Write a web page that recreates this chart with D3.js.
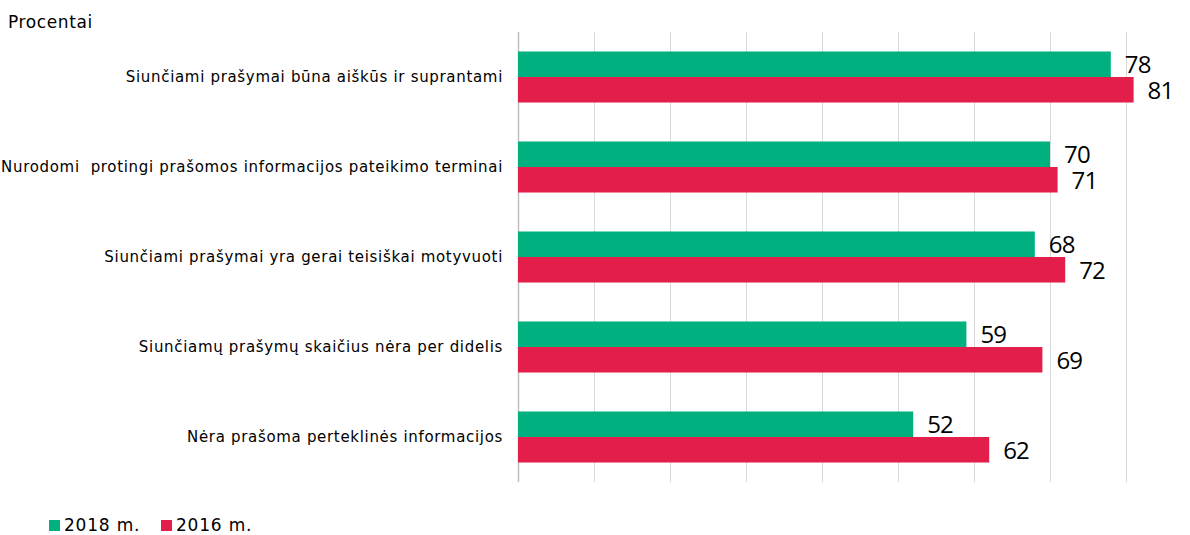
<!DOCTYPE html>
<html>
<head>
<meta charset="utf-8">
<script src="https://cdn.jsdelivr.net/npm/d3@7"></script>
<style>
  body { margin: 0; background: #fff; }
</style>
</head>
<body>
<script>
const categories = [
  'Siunčiami prašymai būna aiškūs ir suprantami',
  'Nurodomi  protingi prašomos informacijos pateikimo terminai',
  'Siunčiami prašymai yra gerai teisiškai motyvuoti',
  'Siunčiamų prašymų skaičius nėra per didelis',
  'Nėra prašoma perteklinės informacijos',
]
const series = ['2018 m.', '2016 m.']
const values2018 = [78, 70, 68, 59, 52]
const values2016 = [81, 71, 72, 69, 62]
const xTicks = [0, 10, 20, 30, 40, 50, 60, 70, 80]
const colors = ['#00b07f', '#e31e4b']

const width = 1190
const height = 535
const margin = { top: 32, right: 64, bottom: 53, left: 518 }

const data = categories.map((c, i) => ({ name: c, values: [values2018[i], values2016[i]] }))

const x = d3
  .scaleLinear()
  .domain([0, 80])
  .range([margin.left, width - margin.right])

const y = d3
  .scaleBand()
  .domain(categories)
  .range([margin.top, height - margin.bottom])
  .paddingInner(0.433)
  .paddingOuter(0.2165)

const yInner = d3
  .scaleBand()
  .domain(series)
  .range([0, y.bandwidth()])

const svg = d3
  .select('body')
  .append('svg')
  .attr('width', width)
  .attr('height', height)
  .style('font-family', '"DejaVu Sans", Verdana, sans-serif')

// grid lines
const grid = svg
  .append('g')
  .attr('transform', `translate(0,${height - margin.bottom})`)
  .call(
    d3
      .axisBottom(x)
      .tickValues(xTicks)
      .tickSize(-(height - margin.bottom - margin.top))
      .tickFormat(''),
  )
grid.select('.domain').remove()
grid.selectAll('.tick line').attr('stroke', '#d9d9d9').attr('stroke-width', 1)
grid
  .selectAll('.tick')
  .filter(d => d === 0)
  .select('line')
  .attr('stroke', '#bfbfbf')
  .attr('stroke-width', 1.5)

// bars
const groups = svg
  .append('g')
  .selectAll('g')
  .data(data)
  .join('g')
  .attr('transform', d => `translate(0,${y(d.name)})`)

groups
  .selectAll('rect')
  .data(d => d.values.map((v, i) => ({ key: series[i], value: v, i })))
  .join('rect')
  .attr('x', x(0))
  .attr('y', d => yInner(d.key))
  .attr('width', d => x(d.value) - x(0))
  .attr('height', yInner.bandwidth())
  .attr('fill', d => colors[d.i])

// value labels (narrow, Calibri-like look)
groups
  .selectAll('text')
  .data(d => d.values.map((v, i) => ({ key: series[i], value: v, i })))
  .join('text')
  .attr('x', d => x(d.value) + 14)
  .attr('y', d => yInner(d.key) + yInner.bandwidth() / 2 + 0.5)
  .attr('dy', '0.35em')
  .style('font-family', '"Open Sans", sans-serif')
  .style('font-size', '24px')
  .style('letter-spacing', '-0.8px')
  .attr('fill', '#000')
  .text(d => d.value)

// category labels
const yAxis = svg
  .append('g')
  .attr('transform', `translate(${margin.left - 15},0)`)
  .call(d3.axisLeft(y).tickSize(0).tickPadding(0))
yAxis.select('.domain').remove()
yAxis
  .selectAll('text')
  .style('font-family', '"DejaVu Sans", Verdana, sans-serif')
  .style('font-size', '15px')
  .style('letter-spacing', '0.68px')
  .style('white-space', 'pre')
  .attr('fill', '#000')

// axis title
svg
  .append('text')
  .attr('x', 8)
  .attr('y', 28)
  .style('font-size', '17px')
  .style('letter-spacing', '0.6px')
  .attr('fill', '#000')
  .text('Procentai')

// legend
const legend = svg
  .append('g')
  .selectAll('g')
  .data(series)
  .join('g')
  .attr('transform', (d, i) => `translate(${49 + i * 112},0)`)

legend
  .append('rect')
  .attr('x', 0)
  .attr('y', 520)
  .attr('width', 11)
  .attr('height', 11)
  .attr('fill', (d, i) => colors[i])

legend
  .append('text')
  .attr('x', 15)
  .attr('y', 531)
  .style('font-size', '17px')
  .style('letter-spacing', '0.8px')
  .attr('fill', '#000')
  .text(d => d)
</script>
</body>
</html>
